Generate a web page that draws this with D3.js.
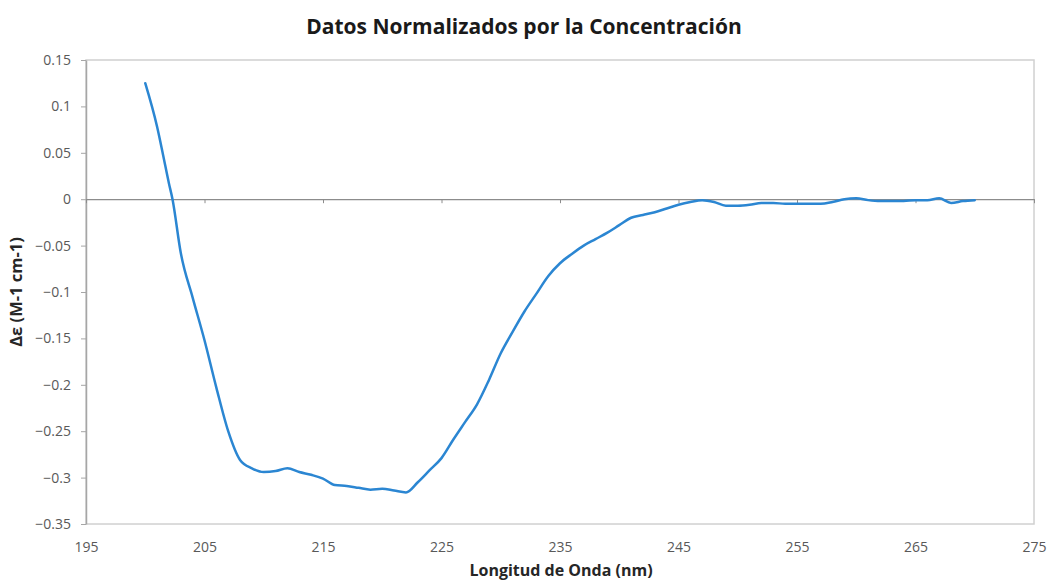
<!DOCTYPE html>
<html>
<head>
<meta charset="utf-8">
<script src="https://cdn.jsdelivr.net/npm/d3@7"></script>
<style>
  body { margin: 0; background: #fff; }
  text { font-family: "Open Sans", "Liberation Sans", sans-serif; }
</style>
</head>
<body>
<div id="wrapper"></div>
<script>
// wavelength (nm)
const wavelengths = [200, 201, 201.5, 202, 202.3, 203, 204, 205, 206, 207, 208, 209, 210,
    211, 212, 213, 214, 215, 216, 217, 218, 219, 220, 221, 222, 223, 224, 225,
    226, 227, 228, 229, 230, 231, 232, 233, 234, 235, 236, 237, 238, 239, 240,
    241, 242, 243, 244, 245, 246, 247, 248, 249, 250, 251, 252, 253, 254, 255,
    256, 257, 258, 259, 260, 261, 262, 263, 264, 265, 266, 267, 268, 269, 270]
// delta epsilon values
const deltaEps = [0.125, 0.078, 0.048, 0.017, 0.0, -0.058, -0.106, -0.152, -0.203, -0.250, -0.281, -0.290, -0.294,
    -0.293, -0.290, -0.294, -0.297, -0.301, -0.308, -0.309, -0.311, -0.313, -0.312, -0.314, -0.316, -0.305, -0.292, -0.279,
    -0.259, -0.240, -0.221, -0.195, -0.166, -0.143, -0.121, -0.102, -0.083, -0.069, -0.059, -0.050, -0.043, -0.036, -0.028,
    -0.020, -0.017, -0.014, -0.010, -0.006, -0.003, -0.001, -0.003, -0.007, -0.007, -0.006, -0.004, -0.004, -0.005, -0.005,
    -0.005, -0.005, -0.003, 0.000, 0.001, -0.001, -0.002, -0.002, -0.002, -0.001, -0.001, 0.001, -0.004, -0.002, -0.001]

const xTicks = [195, 205, 215, 225, 235, 245, 255, 265, 275]
const yTicks = [0.15, 0.1, 0.05, 0, -0.05, -0.1, -0.15, -0.2, -0.25, -0.3, -0.35]

const data = wavelengths.map((w, i) => ({ x: w, y: deltaEps[i] }))

const dimensions = {
    width: 1051,
    height: 583,
    margin: { top: 60, right: 17, bottom: 59, left: 86 },
}
dimensions.boundedWidth = dimensions.width - dimensions.margin.left - dimensions.margin.right
dimensions.boundedHeight = dimensions.height - dimensions.margin.top - dimensions.margin.bottom

const svg = d3.select("#wrapper").append("svg")
    .attr("width", dimensions.width)
    .attr("height", dimensions.height)
    .style("display", "block")

const bounds = svg.append("g")
    .attr("transform", `translate(${dimensions.margin.left},${dimensions.margin.top})`)

const xScale = d3.scaleLinear().domain([195, 275]).range([0, dimensions.boundedWidth])
const yScale = d3.scaleLinear().domain([-0.35, 0.15]).range([dimensions.boundedHeight, 0])

// plot area border
bounds.append("rect")
    .attr("width", dimensions.boundedWidth)
    .attr("height", dimensions.boundedHeight)
    .attr("fill", "none")
    .attr("stroke", "#d0d0d0")
    .attr("stroke-width", 1.5)

// y axis
const yAxis = bounds.append("g")
    .call(d3.axisLeft(yScale).tickValues(yTicks).tickSize(5).tickSizeOuter(0)
        .tickFormat(d => d3.format("")(+d.toFixed(2))))
yAxis.select(".domain").attr("stroke", "#a6a6a6").attr("stroke-width", 1.5)
yAxis.selectAll(".tick line").attr("stroke", "#a6a6a6")
yAxis.selectAll(".tick text")
    .attr("fill", "#595959")
    .style("font-size", "14px")
    .attr("x", -15)

// zero line with small ticks
const zeroAxis = bounds.append("g")
    .attr("transform", `translate(0,${yScale(0)})`)
    .call(d3.axisBottom(xScale).tickValues(xTicks).tickSize(4).tickSizeOuter(0).tickFormat(""))
zeroAxis.select(".domain").attr("stroke", "#8c8c8c").attr("stroke-width", 1.2)
zeroAxis.selectAll(".tick line").attr("stroke", "#8c8c8c")

// x tick labels at the bottom
const xLabels = bounds.append("g")
    .attr("transform", `translate(0,${dimensions.boundedHeight})`)
    .call(d3.axisBottom(xScale).tickValues(xTicks).tickSize(0))
xLabels.select(".domain").remove()
xLabels.selectAll(".tick text")
    .attr("fill", "#595959")
    .style("font-size", "14px")
    .attr("dy", "1.75em")

// line
const lineGenerator = d3.line()
    .x(d => xScale(d.x))
    .y(d => yScale(d.y))
    .curve(d3.curveMonotoneX)

bounds.append("path")
    .attr("d", lineGenerator(data))
    .attr("fill", "none")
    .attr("stroke", "#2b86d2")
    .attr("stroke-width", 2.5)
    .attr("stroke-linejoin", "round")
    .attr("stroke-linecap", "round")

// titles
svg.append("text")
    .attr("x", 524)
    .attr("y", 34)
    .attr("text-anchor", "middle")
    .style("font-size", "21px")
    .style("font-weight", "bold")
    .attr("fill", "#1a1a1a")
    .text("Datos Normalizados por la Concentración")

svg.append("text")
    .attr("x", 561)
    .attr("y", 576)
    .attr("text-anchor", "middle")
    .style("font-size", "16px")
    .style("font-weight", "bold")
    .attr("fill", "#262626")
    .text("Longitud de Onda (nm)")

svg.append("text")
    .attr("transform", `translate(22,${dimensions.margin.top + yScale(-0.1)}) rotate(-90)`)
    .attr("text-anchor", "middle")
    .style("font-size", "16.5px")
    .style("font-weight", "bold")
    .attr("fill", "#262626")
    .text("Δε (M-1 cm-1)")
</script>
</body>
</html>
